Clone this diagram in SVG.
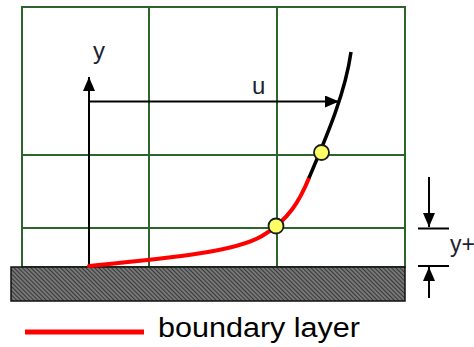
<svg xmlns="http://www.w3.org/2000/svg" width="474" height="347" viewBox="0 0 474 347">
<style>
.grid{stroke:#2c642c;stroke-width:2;fill:none}
.ax{stroke:#000;stroke-width:2;fill:none}
.lbl{font-family:"Liberation Sans",Arial,sans-serif;fill:#1c2230}
.pt{fill:#ffff66;stroke:#1a1a1a;stroke-width:1.8}
</style>
<defs>
<pattern id="hatch" width="3" height="3" patternUnits="userSpaceOnUse" patternTransform="rotate(-45)">
<rect width="3" height="3" fill="#777"/>
<line x1="0" y1="0" x2="0" y2="3" stroke="#262626" stroke-width="1.6"/>
</pattern>
<marker id="ah" markerWidth="14" markerHeight="12" refX="14" refY="6" orient="auto" markerUnits="userSpaceOnUse">
<path d="M0,0 L14,6 L0,12 Z" fill="#000"/>
</marker>
</defs>
<g id="grid">
<rect class="grid" x="22" y="7" width="383" height="260"/>
<line class="grid" x1="149" y1="7" x2="149" y2="267"/>
<line class="grid" x1="277" y1="7" x2="277" y2="267"/>
<line class="grid" x1="22" y1="155" x2="405" y2="155"/>
<line class="grid" x1="22" y1="228" x2="405" y2="228"/>
</g>
<g id="wall">
<rect x="11" y="267" width="394" height="34" fill="url(#hatch)" stroke="#111" stroke-width="1.5"/>
</g>
<g id="connectors">
<line class="ax" x1="89" y1="267" x2="89" y2="77" marker-end="url(#ah)"/>
<line class="ax" x1="89" y1="101.5" x2="339" y2="101.5" marker-end="url(#ah)"/>
<line class="ax" x1="429" y1="177" x2="429" y2="227" marker-end="url(#ah)"/>
<line class="ax" x1="429" y1="298" x2="429" y2="267" marker-end="url(#ah)"/>
<line class="ax" x1="418" y1="228.5" x2="449" y2="228.5"/>
<line class="ax" x1="418" y1="266" x2="449" y2="266"/>
</g>
<g id="profile">
<path d="M89 266 C170 258 235 252 262 236 S300 200 309 178" fill="none" stroke="#ff0000" stroke-width="4" stroke-linecap="round"/>
<path d="M309 178 C325 140 345 95 351 52" fill="none" stroke="#000" stroke-width="3.5"/>
<circle class="pt" cx="276" cy="226" r="7.5"/>
<circle class="pt" cx="321.5" cy="152.5" r="7.5"/>
</g>
<g id="labels">
<text class="lbl" x="93" y="59" font-size="24">y</text>
<text class="lbl" x="252" y="94" font-size="24">u</text>
<text class="lbl" x="450" y="252" font-size="23">y+</text>
</g>
<g id="legend">
<line x1="25" y1="332" x2="144" y2="332" stroke="#ff0000" stroke-width="5"/>
<text x="158" y="337" font-family="Liberation Sans,Arial,sans-serif" font-size="27" fill="#000" textLength="202" lengthAdjust="spacingAndGlyphs">boundary layer</text>
</g>
</svg>
